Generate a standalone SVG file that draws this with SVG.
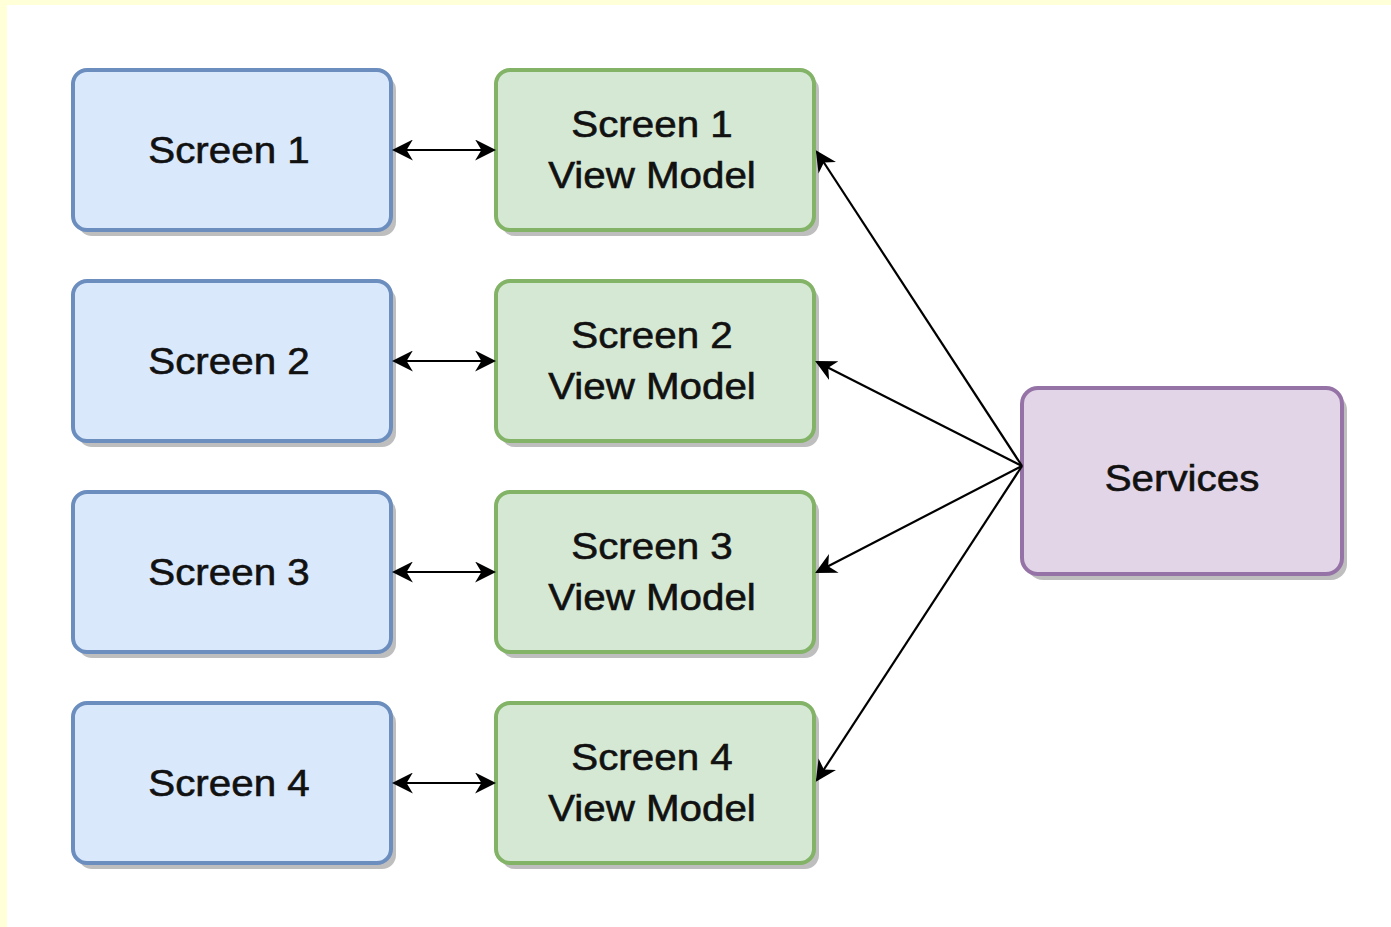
<svg xmlns="http://www.w3.org/2000/svg" width="1391" height="927" viewBox="0 0 1391 927">
<style>
.sh{fill:#a8a8a8;opacity:0.75}
.blue{fill:#dae8fc;stroke:#6c8ebf;stroke-width:4}
.green{fill:#d5e8d4;stroke:#82b366;stroke-width:4}
.purple{fill:#e1d5e7;stroke:#9673a6;stroke-width:4}
.t{font-family:"Liberation Sans",Arial,sans-serif;font-size:37px;fill:#111;stroke:#111;stroke-width:0.6;text-anchor:middle}
.c{stroke:#000;stroke-width:2.2;fill:none}
</style>
<defs>
<marker id="ah2" viewBox="0 0 10 10" refX="9" refY="5" markerWidth="21" markerHeight="21" markerUnits="userSpaceOnUse" orient="auto-start-reverse">
<path d="M0,0 L10,5 L0,10 L3,5 Z" fill="#000"/>
</marker>
</defs>
<rect width="1391" height="927" fill="#ffffd8"/>
<rect x="7" y="5" width="1384" height="922" fill="#fff"/>

<g id="screen1"><rect class="sh" x="78" y="76" width="318" height="160" rx="14"/><rect class="blue" x="73" y="70" width="318" height="160" rx="14"/><text class="t" transform="translate(229,163) scale(1.09,1)">Screen 1</text></g>
<g id="screen2"><rect class="sh" x="78" y="287" width="318" height="160" rx="14"/><rect class="blue" x="73" y="281" width="318" height="160" rx="14"/><text class="t" transform="translate(229,374) scale(1.09,1)">Screen 2</text></g>
<g id="screen3"><rect class="sh" x="78" y="498" width="318" height="160" rx="14"/><rect class="blue" x="73" y="492" width="318" height="160" rx="14"/><text class="t" transform="translate(229,585) scale(1.09,1)">Screen 3</text></g>
<g id="screen4"><rect class="sh" x="78" y="709" width="318" height="160" rx="14"/><rect class="blue" x="73" y="703" width="318" height="160" rx="14"/><text class="t" transform="translate(229,796) scale(1.09,1)">Screen 4</text></g>

<g id="vm1"><rect class="sh" x="501" y="76" width="318" height="160" rx="14"/><rect class="green" x="496" y="70" width="318" height="160" rx="14"/><text class="t" transform="translate(652,137) scale(1.09,1)">Screen 1</text><text class="t" transform="translate(652,188) scale(1.09,1)">View Model</text></g>
<g id="vm2"><rect class="sh" x="501" y="287" width="318" height="160" rx="14"/><rect class="green" x="496" y="281" width="318" height="160" rx="14"/><text class="t" transform="translate(652,348) scale(1.09,1)">Screen 2</text><text class="t" transform="translate(652,399) scale(1.09,1)">View Model</text></g>
<g id="vm3"><rect class="sh" x="501" y="498" width="318" height="160" rx="14"/><rect class="green" x="496" y="492" width="318" height="160" rx="14"/><text class="t" transform="translate(652,559) scale(1.09,1)">Screen 3</text><text class="t" transform="translate(652,610) scale(1.09,1)">View Model</text></g>
<g id="vm4"><rect class="sh" x="501" y="709" width="318" height="160" rx="14"/><rect class="green" x="496" y="703" width="318" height="160" rx="14"/><text class="t" transform="translate(652,770) scale(1.09,1)">Screen 4</text><text class="t" transform="translate(652,821) scale(1.09,1)">View Model</text></g>

<g id="services"><rect class="sh" x="1027" y="394" width="320" height="186" rx="16"/><rect class="purple" x="1022" y="388" width="320" height="186" rx="16"/><text class="t" transform="translate(1182,491) scale(1.09,1)">Services</text></g>

<g id="connectors">
<line class="c" x1="394" y1="150" x2="494" y2="150" marker-start="url(#ah2)" marker-end="url(#ah2)"/>
<line class="c" x1="394" y1="361" x2="494" y2="361" marker-start="url(#ah2)" marker-end="url(#ah2)"/>
<line class="c" x1="394" y1="572" x2="494" y2="572" marker-start="url(#ah2)" marker-end="url(#ah2)"/>
<line class="c" x1="394" y1="783" x2="494" y2="783" marker-start="url(#ah2)" marker-end="url(#ah2)"/>
<line class="c" x1="1022" y1="466" x2="817" y2="152" marker-end="url(#ah2)"/>
<line class="c" x1="1022" y1="466" x2="817" y2="362" marker-end="url(#ah2)"/>
<line class="c" x1="1022" y1="466" x2="817" y2="572" marker-end="url(#ah2)"/>
<line class="c" x1="1022" y1="466" x2="817" y2="780" marker-end="url(#ah2)"/>
</g>
</svg>
